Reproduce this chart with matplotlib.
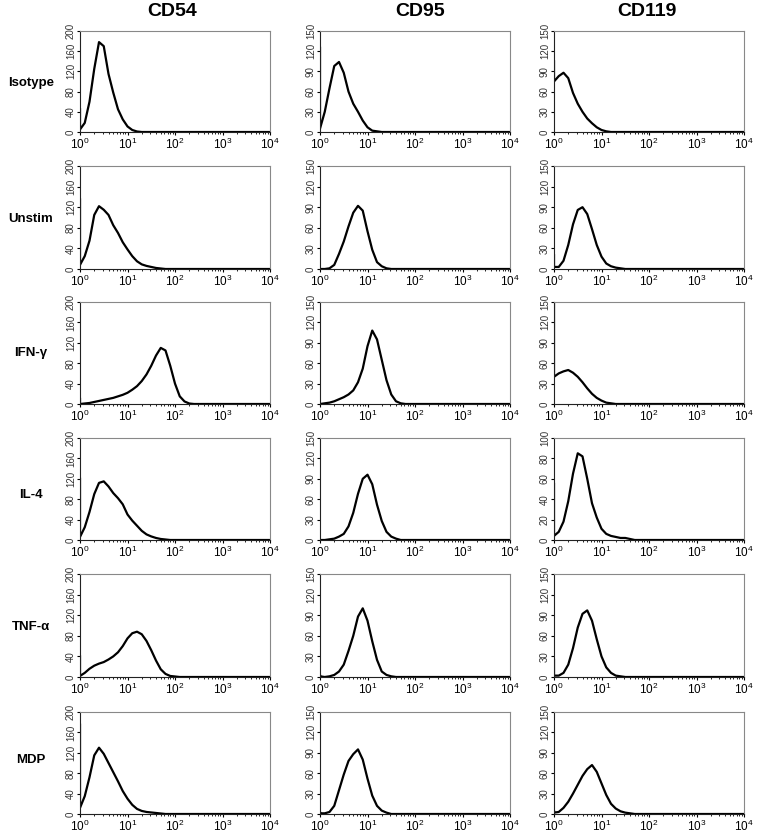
import numpy as np
import matplotlib
matplotlib.use("Agg")
import matplotlib.pyplot as plt

plt.rcParams['font.family'] = ['Liberation Sans', 'DejaVu Sans']
plt.rcParams['mathtext.default'] = 'regular'

markers = ["CD54", "CD95", "CD119"]
treatments = ["Isotype", "Unstim", "IFN-\u03b3", "IL-4", "TNF-\u03b1", "MDP"]

cd54_isotype = [5, 18, 60, 125, 178, 170, 115, 78, 45, 25, 11, 4, 1, 0]
cd54_unstim = [8, 25, 55, 105, 122, 115, 105, 85, 70, 52, 38, 25, 15, 9, 6, 4, 2, 1, 0]
cd54_ifng = [0, 1, 2, 4, 6, 8, 10, 12, 15, 18, 22, 28, 35, 45, 58, 75, 95, 110, 105, 75, 40, 15, 5, 1, 0]
cd54_il4 = [6, 25, 55, 90, 112, 115, 105, 92, 82, 70, 50, 38, 28, 18, 11, 7, 4, 2, 1, 0]
cd54_tnfa = [2, 8, 16, 22, 26, 29, 34, 40, 48, 60, 75, 85, 88, 83, 70, 52, 32, 15, 6, 2, 1, 0]
cd54_mdp = [12, 35, 72, 115, 130, 118, 100, 82, 64, 45, 30, 18, 10, 6, 4, 3, 2, 1, 0]

cd95_isotype = [5, 30, 65, 98, 104, 88, 60, 42, 30, 17, 7, 2, 1, 0]
cd95_unstim = [0, 0, 1, 6, 22, 40, 62, 82, 92, 85, 55, 28, 10, 4, 1, 0]
cd95_ifng = [0, 1, 2, 4, 7, 10, 14, 20, 32, 52, 85, 108, 95, 65, 35, 14, 4, 1, 0]
cd95_il4 = [0, 0, 1, 2, 5, 9, 20, 40, 68, 90, 96, 82, 52, 28, 12, 5, 2, 0]
cd95_tnfa = [1, 0, 1, 3, 8, 18, 38, 60, 88, 100, 82, 52, 25, 8, 3, 1, 0]
cd95_mdp = [1, 1, 3, 12, 35, 58, 78, 88, 95, 80, 52, 27, 12, 5, 2, 0]

cd119_isotype = [75, 83, 88, 80, 58, 42, 30, 20, 13, 7, 3, 1, 0]
cd119_unstim = [3, 3, 12, 35, 65, 86, 90, 80, 58, 35, 18, 8, 4, 2, 1, 0]
cd119_ifng = [40, 45, 48, 50, 46, 40, 32, 23, 15, 9, 5, 2, 1, 0]
cd119_il4 = [4, 8, 18, 38, 65, 85, 82, 60, 36, 22, 11, 6, 4, 3, 2, 2, 1, 0]
cd119_tnfa = [2, 2, 6, 18, 42, 72, 92, 97, 82, 55, 30, 14, 6, 2, 1, 0]
cd119_mdp = [2, 3, 9, 18, 30, 43, 56, 66, 72, 62, 45, 28, 15, 8, 4, 2, 1, 0]

# height of the first-channel spike at 10^0
cd54_spike = [45, 135, 10, 120, 40, 175]
cd95_spike = [125, 0, 0, 0, 2, 2]
cd119_spike = [105, 20, 150, 55, 25, 4]

cd54_ymax = [200] * 6
cd95_ymax = [150] * 6
cd119_ymax = [150, 150, 150, 100, 150, 150]

curves = [
    [cd54_isotype, cd54_unstim, cd54_ifng, cd54_il4, cd54_tnfa, cd54_mdp],
    [cd95_isotype, cd95_unstim, cd95_ifng, cd95_il4, cd95_tnfa, cd95_mdp],
    [cd119_isotype, cd119_unstim, cd119_ifng, cd119_il4, cd119_tnfa, cd119_mdp],
]
spikes = [cd54_spike, cd95_spike, cd119_spike]
ymaxes = [cd54_ymax, cd95_ymax, cd119_ymax]

W, H = 757, 835
fig = plt.figure(figsize=(W / 100, H / 100), dpi=100)

col_x = [(80, 270), (320, 510), (554, 744)]
row_y = [(31, 132), (166, 269), (302, 404), (438, 540), (574, 677), (712, 814)]
title_x = [172, 420, 647]

for c in range(3):
    for r in range(6):
        x0, x1 = col_x[c]
        y0, y1 = row_y[r]
        ax = fig.add_axes([x0 / W, 1 - y1 / H, (x1 - x0) / W, (y1 - y0) / H])
        vals = curves[c][r]
        xs = np.concatenate([[1.0], 10 ** (0.1 * np.arange(len(vals))), [1e4]])
        ys = np.concatenate([[spikes[c][r]], vals, [0]])
        ax.plot(xs, ys, color='black', lw=1.6)
        ax.set_xscale('log')
        ax.set_xlim(1, 1e4)
        ymax = ymaxes[c][r]
        ax.set_ylim(0, ymax)
        step = 40 if ymax == 200 else (20 if ymax == 100 else 30)
        ax.set_yticks(np.arange(0, ymax + 1, step))
        ax.tick_params(axis='y', labelsize=7, length=2, pad=1, labelcolor='#333333')
        for lbl in ax.get_yticklabels():
            lbl.set_rotation(90)
            lbl.set_va('center')
        ax.tick_params(axis='x', which='major', labelsize=8.5, length=2.5, pad=1)
        ax.tick_params(axis='x', which='minor', length=1.2)
        for s in ['left', 'bottom']:
            ax.spines[s].set_color('#222222')
            ax.spines[s].set_linewidth(0.8)
        for s in ['top', 'right']:
            ax.spines[s].set_color('#888888')
            ax.spines[s].set_linewidth(0.8)

for c, name in enumerate(markers):
    fig.text(title_x[c] / W, 1 - 11 / H, name, ha='center', va='center',
             fontsize=14, fontweight='bold')

label_y = [83, 219, 353, 495, 627, 760]
for r, name in enumerate(treatments):
    fig.text(31 / W, 1 - label_y[r] / H, name, ha='center', va='center',
             fontsize=9.5, fontweight='bold')

fig.savefig('out.png', dpi=100)
